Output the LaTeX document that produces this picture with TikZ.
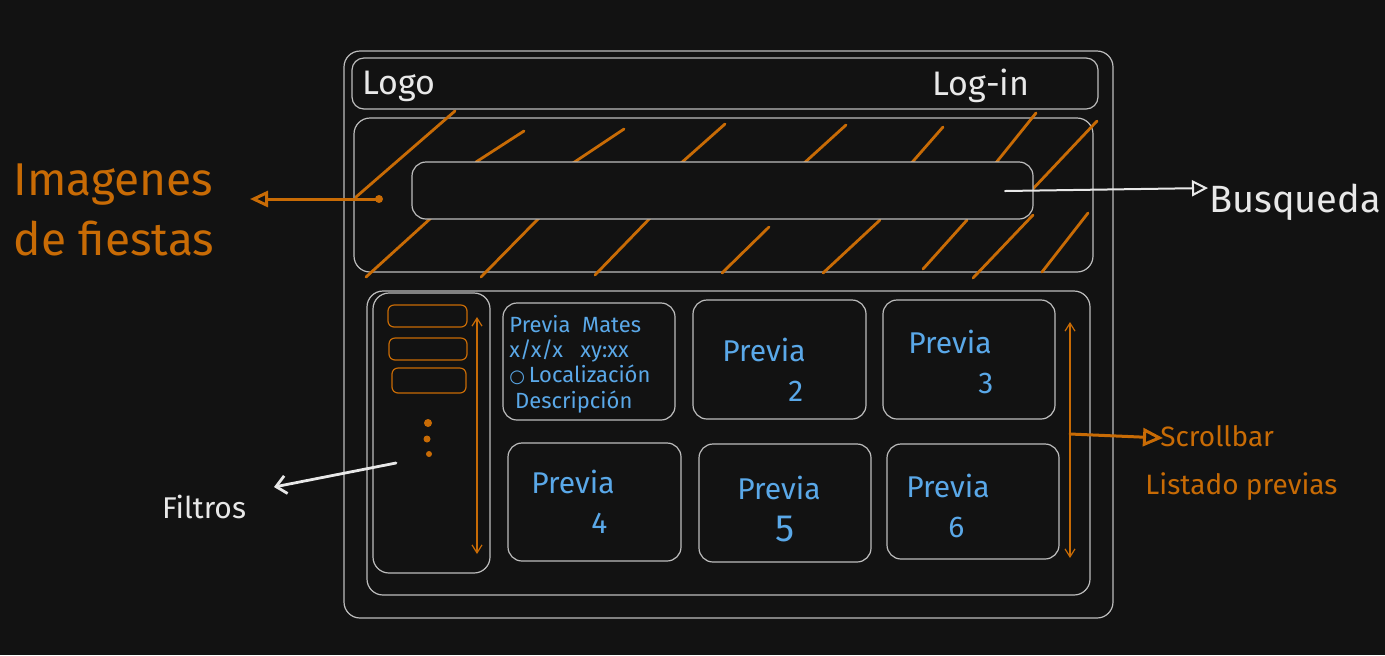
\documentclass[tikz,border=0pt]{standalone}
\usepackage{fontspec}
\setmainfont{Fira Sans}
\newfontfamily\pinfont{DejaVu Sans}
\usetikzlibrary{arrows.meta, positioning, fit}

\definecolor{bgdark}{HTML}{121212}
\definecolor{framegray}{HTML}{BDBDBD}
\definecolor{sketchorange}{HTML}{C86B05}
\definecolor{sketchblue}{HTML}{5AA8E8}
\definecolor{inkwhite}{HTML}{E8E8E8}

\begin{document}
\begin{tikzpicture}[
    x=0.5pt, y=-0.5pt,
    box/.style={draw=framegray, line width=0.6pt, rounded corners=7pt, inner sep=0pt},
    filterbox/.style={draw=sketchorange, line width=0.6pt, rounded corners=3pt, inner sep=0pt},
    hatch/.style={draw=sketchorange, line width=1.4pt, line cap=round},
    scrollarrow/.style={draw=sketchorange, line width=0.6pt, {Straight Barb[length=4pt, width=5pt]}-{Straight Barb[length=4pt, width=5pt]}},
    orangearrow/.style={draw=sketchorange, line width=1.5pt, line cap=round, -{Triangle[open, length=9pt, width=8pt]}},
    whitearrow/.style={draw=inkwhite, line width=1pt, line cap=round, -{Triangle[open, length=8pt, width=8pt]}},
    whitetext/.style={text=inkwhite, inner sep=0pt},
    orangetext/.style={text=sketchorange, inner sep=0pt, align=left},
    bluetext/.style={text=sketchblue, inner sep=0pt, align=left, anchor=north west, font=\fontsize{15}{20}\selectfont}
]
    % canvas
    \fill[bgdark] (0,0) rectangle (1385,655);
    \useasboundingbox (0,0) rectangle (1385,655);

    % page frame
    \node[box, rounded corners=8pt, fit={(344,51) (1113,618)}] (frame) {};
    \node[box, rounded corners=6pt, fit={(352,58) (1098,109)}] (header) {};
    \node[whitetext, font=\fontsize{17}{20}\selectfont] (logo) at (399,86) {Logo};
    \node[whitetext, font=\fontsize{17}{20}\selectfont] (login) at (981,86) {Log-in};

    % hero with hatching
    \node[box, rounded corners=8pt, fit={(354,118) (1093,272)}] (hero) {};
    \foreach \ax/\ay/\bx/\by in {356/197/455/111, 476/162/524/131, 570/165/624/129,
        680/164/725/124, 802/165/846/125, 908/167/943/127, 995/164/1036/113,
        1030/192/1097/121, 366/277/431/218, 481/277/539/218, 595/275/654/214,
        722/273/769/227, 823/273/880/220, 923/269/967/220, 973/278/1033/215,
        1042/272/1088/213}
        \draw[hatch] (\ax,\ay) -- (\bx,\by);
    \node[box, rounded corners=7pt, fill=bgdark, fit={(412,162) (1033,219)}] (search) {};

    % content
    \node[box, rounded corners=8pt, fit={(367,291) (1090,595)}] (content) {};
    \node[box, rounded corners=8pt, fit={(373,293) (490,573)}] (filters) {};
    \node[filterbox, fit={(388,305) (467,327)}] (filter1) {};
    \node[filterbox, fit={(389,338) (467,360)}] (filter2) {};
    \node[filterbox, fit={(392,368) (466,393)}] (filter3) {};
    \fill[sketchorange] (428,423) circle (4) (427,439) circle (3.5) (429,454) circle (3);
    \coordinate (filtertop) at (477,317);
    \coordinate (filterbot) at (477,554);
    \draw[scrollarrow] (filtertop) -- (filterbot);

    % cards
    \node[box, fit={(503,303) (675,420)}] (card1) {};
    \node[box, fit={(693,300) (866,419)}] (card2) {};
    \node[box, fit={(883,300) (1055,419)}] (card3) {};
    \node[box, fit={(508,443) (681,561)}] (card4) {};
    \node[box, fit={(699,444) (871,562)}] (card5) {};
    \node[box, fit={(887,444) (1059,559)}] (card6) {};

    \node[text=sketchblue, inner sep=0pt, anchor=north west, align=left,
        font=\fontsize{11}{12.6}\selectfont] (mates) at (509,315)
        {Previa\ \ Mates\\x/x/x\ \ \ xy:xx\\{\pinfont\fontsize{9}{12}\selectfont ○}\,Localización\\\ Descripción};
    \node[bluetext] (prev2) at (722,338) {Previa\\\hspace*{33pt}2};
    \node[bluetext] (prev3) at (908,330) {Previa\\\hspace*{35pt}3};
    \node[bluetext] (prev4) at (531,470) {Previa\\\hspace*{30pt}4};
    \node[bluetext, font=\fontsize{15}{21}\selectfont] (prev5) at (737,476) {Previa\\\hspace*{19pt}{\fontsize{19}{21}\selectfont 5}};
    \node[bluetext] (prev6) at (906,474) {Previa\\\hspace*{21pt}6};

    \coordinate (scrolltop) at (1070,322);
    \coordinate (scrollbot) at (1070,558);
    \draw[scrollarrow] (scrolltop) -- (scrollbot);

    % annotations
    \node[orangetext, font=\fontsize{23}{30}\selectfont] (imagenes) at (114,210) {Imagenes\\de fiestas};
    \coordinate (herodot) at (379,199);
    \coordinate (herotip) at (250,199);
    \fill[sketchorange] (herodot) circle (4);
    \draw[orangearrow] (herodot) -- (herotip);

    \node[whitetext, font=\fontsize{19}{22}\selectfont] (busqueda) at (1295,202) {Busqueda};
    \coordinate (searchend) at (1005,191);
    \coordinate (searchtip) at (1208,188);
    \draw[whitearrow] (searchend) -- (searchtip);

    \node[whitetext, font=\fontsize{15}{17}\selectfont] (filtros) at (204,507) {Filtros};
    \coordinate (filterstart) at (396,463);
    \coordinate (filtertip) at (274,487);
    \draw[draw=inkwhite, line width=1.4pt, line cap=round, -{Straight Barb[length=5pt, width=9pt]}] (filterstart) -- (filtertip);

    \node[orangetext, font=\fontsize{14}{24}\selectfont, anchor=north west] (scrollbar) at (1145,425) {\ \ Scrollbar\\Listado previas};
    \coordinate (scrollmid) at (1070,434);
    \coordinate (scrolltip) at (1163,438);
    \draw[orangearrow, -{Triangle[open, length=10pt, width=9pt]}] (scrollmid) -- (scrolltip);
\end{tikzpicture}
\end{document}
